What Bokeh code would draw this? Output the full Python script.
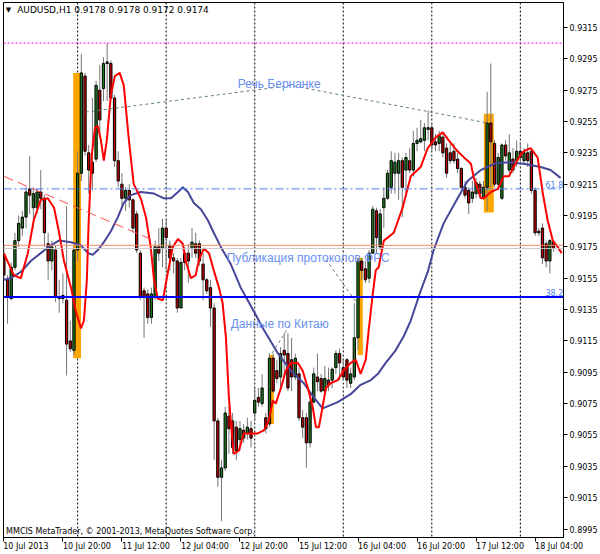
from bokeh.plotting import figure
from bokeh.models import Span, Label, FixedTicker, NumeralTickFormatter, LinearAxis
from bokeh.embed import file_html
from bokeh.resources import INLINE

SYMBOL = "AUDUSD,H1"
OPEN = [0.9170, 0.9154, 0.9142, 0.9162, 0.9179, 0.9187, 0.9194, 0.9212, 0.9200, 0.9200,
        0.9210, 0.9206, 0.9177, 0.9166, 0.9173, 0.9143, 0.9144, 0.9141, 0.9115, 0.9109,
        0.9173, 0.9222, 0.9284, 0.9235, 0.9229, 0.9231, 0.9275, 0.9276, 0.9292, 0.9292,
        0.9270, 0.9230, 0.9215, 0.9206, 0.9211, 0.9205, 0.9196, 0.9171, 0.9147, 0.9145,
        0.9130, 0.9143, 0.9175, 0.9174, 0.9187, 0.9176, 0.9168, 0.9166, 0.9136, 0.9171,
        0.9171, 0.9174, 0.9177, 0.9177, 0.9164, 0.9154, 0.9149, 0.9136, 0.9064, 0.9028,
        0.9034, 0.9067, 0.9064, 0.9060, 0.9052, 0.9058, 0.9056, 0.9059, 0.9069, 0.9079,
        0.9075, 0.9066, 0.9062, 0.9104, 0.9096, 0.9092, 0.9109, 0.9107, 0.9103, 0.9092,
        0.9094, 0.9066, 0.9066, 0.9050, 0.9076, 0.9092, 0.9091, 0.9083, 0.9090, 0.9090,
        0.9098, 0.9107, 0.9098, 0.9103, 0.9088, 0.9092, 0.9117, 0.9166, 0.9161, 0.9155,
        0.9171, 0.9198, 0.9175, 0.9200, 0.9206, 0.9213, 0.9222, 0.9222, 0.9230, 0.9224,
        0.9230, 0.9224, 0.9241, 0.9242, 0.9243, 0.9250, 0.9251, 0.9242, 0.9241, 0.9245,
        0.9238, 0.9235, 0.9236, 0.9231, 0.9225, 0.9213, 0.9211, 0.9206, 0.9209, 0.9215,
        0.9206, 0.9213, 0.9254, 0.9241, 0.9215, 0.9206, 0.9240, 0.9224, 0.9231, 0.9230,
        0.9236, 0.9230, 0.9235, 0.9236, 0.9211, 0.9185, 0.9187, 0.9177, 0.9166, 0.9178]
HIGH = [0.9176, 0.9157, 0.9165, 0.9184, 0.9195, 0.9198, 0.9213, 0.9233, 0.9213, 0.9212,
        0.9224, 0.9208, 0.9184, 0.9179, 0.9176, 0.9154, 0.9158, 0.9201, 0.9128, 0.9176,
        0.9236, 0.9298, 0.9286, 0.9240, 0.9270, 0.9281, 0.9291, 0.9296, 0.9305, 0.9294,
        0.9272, 0.9236, 0.9222, 0.9213, 0.9215, 0.9206, 0.9198, 0.9173, 0.9149, 0.9148,
        0.9149, 0.9179, 0.9187, 0.9193, 0.9192, 0.9179, 0.9171, 0.9168, 0.9168, 0.9175,
        0.9177, 0.9187, 0.9184, 0.9179, 0.9171, 0.9155, 0.9154, 0.9139, 0.9066, 0.9039,
        0.9073, 0.9073, 0.9069, 0.9064, 0.9064, 0.9062, 0.9066, 0.9064, 0.9085, 0.9085,
        0.9094, 0.9069, 0.9107, 0.9107, 0.9103, 0.9111, 0.9120, 0.9120, 0.9117, 0.9107,
        0.9098, 0.9071, 0.9069, 0.9082, 0.9098, 0.9107, 0.9094, 0.9099, 0.9098, 0.9098,
        0.9109, 0.9110, 0.9103, 0.9104, 0.9098, 0.9139, 0.9168, 0.9168, 0.9166, 0.9173,
        0.9201, 0.9200, 0.9199, 0.9213, 0.9224, 0.9236, 0.9235, 0.9235, 0.9232, 0.9235,
        0.9238, 0.9249, 0.9251, 0.9256, 0.9254, 0.9262, 0.9254, 0.9247, 0.9249, 0.9248,
        0.9241, 0.9241, 0.9241, 0.9235, 0.9226, 0.9217, 0.9213, 0.9217, 0.9219, 0.9217,
        0.9217, 0.9274, 0.9292, 0.9243, 0.9235, 0.9241, 0.9243, 0.9247, 0.9238, 0.9243,
        0.9242, 0.9238, 0.9241, 0.9238, 0.9213, 0.9187, 0.9190, 0.9179, 0.9180, 0.9178]
LOW = [0.9154, 0.9126, 0.9141, 0.9160, 0.9175, 0.9182, 0.9187, 0.9196, 0.9187, 0.9196,
       0.9199, 0.9175, 0.9154, 0.9160, 0.9140, 0.9133, 0.9139, 0.9093, 0.9108, 0.9106,
       0.9166, 0.9217, 0.9233, 0.9209, 0.9211, 0.9229, 0.9247, 0.9268, 0.9268, 0.9268,
       0.9226, 0.9213, 0.9200, 0.9198, 0.9200, 0.9184, 0.9171, 0.9141, 0.9117, 0.9126,
       0.9126, 0.9141, 0.9166, 0.9162, 0.9160, 0.9160, 0.9158, 0.9133, 0.9136, 0.9160,
       0.9152, 0.9168, 0.9168, 0.9163, 0.9141, 0.9145, 0.9124, 0.9039, 0.9022, 0.9000,
       0.9032, 0.9043, 0.9043, 0.9039, 0.9045, 0.9050, 0.9052, 0.9047, 0.9064, 0.9073,
       0.9073, 0.9056, 0.9060, 0.9082, 0.9088, 0.9085, 0.9092, 0.9083, 0.9083, 0.9090,
       0.9064, 0.9053, 0.9034, 0.9047, 0.9075, 0.9083, 0.9082, 0.9082, 0.9083, 0.9085,
       0.9094, 0.9090, 0.9090, 0.9085, 0.9085, 0.9090, 0.9109, 0.9154, 0.9152, 0.9152,
       0.9171, 0.9171, 0.9173, 0.9187, 0.9205, 0.9209, 0.9209, 0.9205, 0.9194, 0.9209,
       0.9222, 0.9220, 0.9236, 0.9241, 0.9236, 0.9243, 0.9236, 0.9236, 0.9236, 0.9232,
       0.9219, 0.9228, 0.9228, 0.9222, 0.9211, 0.9206, 0.9196, 0.9203, 0.9206, 0.9206,
       0.9205, 0.9198, 0.9213, 0.9213, 0.9211, 0.9205, 0.9230, 0.9222, 0.9222, 0.9226,
       0.9228, 0.9228, 0.9226, 0.9209, 0.9182, 0.9182, 0.9164, 0.9162, 0.9158, 0.9172]
CLOSE = [0.9157, 0.9143, 0.9162, 0.9179, 0.9190, 0.9194, 0.9210, 0.9208, 0.9209, 0.9210,
         0.9206, 0.9184, 0.9166, 0.9175, 0.9143, 0.9142, 0.9142, 0.9113, 0.9110, 0.9173,
         0.9222, 0.9286, 0.9236, 0.9224, 0.9222, 0.9278, 0.9256, 0.9292, 0.9293, 0.9270,
         0.9230, 0.9217, 0.9206, 0.9211, 0.9205, 0.9187, 0.9173, 0.9143, 0.9143, 0.9130,
         0.9145, 0.9175, 0.9171, 0.9187, 0.9181, 0.9168, 0.9166, 0.9136, 0.9165, 0.9165,
         0.9166, 0.9178, 0.9171, 0.9166, 0.9154, 0.9147, 0.9136, 0.9064, 0.9028, 0.9034,
         0.9069, 0.9059, 0.9047, 0.9045, 0.9059, 0.9053, 0.9060, 0.9053, 0.9077, 0.9076,
         0.9085, 0.9059, 0.9104, 0.9083, 0.9091, 0.9107, 0.9106, 0.9085, 0.9092, 0.9104,
         0.9066, 0.9060, 0.9050, 0.9076, 0.9094, 0.9089, 0.9083, 0.9091, 0.9087, 0.9097,
         0.9107, 0.9101, 0.9092, 0.9090, 0.9094, 0.9117, 0.9166, 0.9160, 0.9154, 0.9171,
         0.9199, 0.9181, 0.9196, 0.9206, 0.9222, 0.9230, 0.9229, 0.9230, 0.9213, 0.9232,
         0.9224, 0.9241, 0.9243, 0.9244, 0.9251, 0.9251, 0.9240, 0.9240, 0.9246, 0.9235,
         0.9222, 0.9230, 0.9230, 0.9225, 0.9213, 0.9208, 0.9203, 0.9210, 0.9216, 0.9209,
         0.9213, 0.9254, 0.9242, 0.9215, 0.9232, 0.9240, 0.9233, 0.9235, 0.9224, 0.9236,
         0.9232, 0.9235, 0.9230, 0.9211, 0.9184, 0.9184, 0.9168, 0.9166, 0.9179, 0.9174]

# indicator lines (bar index, price)
RED_X = [0, 2.7, 4.6, 6.5, 8.1, 10, 11.9, 13.6, 14.9, 16.3, 18.2, 19.5, 20.9, 21.7, 22.5, 23, 23.8,
         24.7, 25.5, 26.3, 27.1, 27.9, 29, 30.1, 31.4, 32.5, 33.9, 35.2, 37.1, 38.5, 39.8, 40.7,
         41.7, 43.1, 44.4, 45.8, 47.2, 48.5, 49.3, 50.7, 52, 52.8, 54.2, 55.6, 56.9, 58.3, 59.3,
         60.2, 61, 61.5, 62.3, 63.7, 65, 66.9, 68.8, 70.5, 71.8, 72.9, 73.7, 75.1, 76.4, 77.8,
         79.7, 81, 82.4, 83.7, 84.6, 85.4, 86.4, 87.3, 88.6, 90.5, 92.1, 94, 95.4, 96.7, 98.1,
         98.9, 100, 100.8, 101.6, 103, 105.7, 108.1, 110.3, 113, 114.9, 117.1, 119, 120.6, 123,
         125.2, 126.6, 127.4, 129.3, 130.1, 132, 133.9, 135.5, 136.9, 138.2, 139.6, 140.9, 142.8,
         144.7, 146.1, 147.4, 148.8, 150.1, 151.2]
RED_Y = [0.9171, 0.9157, 0.9155, 0.9171, 0.9192, 0.9205, 0.9206, 0.9200, 0.9185, 0.9166, 0.9149,
         0.9134, 0.9123, 0.9128, 0.9154, 0.9192, 0.9233, 0.9251, 0.9252, 0.9243, 0.9230, 0.9243,
         0.9272, 0.9284, 0.9286, 0.9278, 0.9243, 0.9215, 0.9206, 0.9194, 0.9175, 0.9154, 0.9142,
         0.9141, 0.9158, 0.9175, 0.9180, 0.9177, 0.9166, 0.9155, 0.9157, 0.9166, 0.9174, 0.9171,
         0.9160, 0.9149, 0.9139, 0.9117, 0.9079, 0.9064, 0.9043, 0.9045, 0.9056, 0.9056, 0.9056,
         0.9058, 0.9064, 0.9077, 0.9075, 0.9085, 0.9096, 0.9101, 0.9101, 0.9096, 0.9085, 0.9073,
         0.9060, 0.9060, 0.9073, 0.9085, 0.9088, 0.9090, 0.9096, 0.9101, 0.9103, 0.9094, 0.9103,
         0.9122, 0.9145, 0.9160, 0.9162, 0.9179, 0.9184, 0.9200, 0.9220, 0.9226, 0.9238, 0.9245,
         0.9248, 0.9243, 0.9236, 0.9231, 0.9228, 0.9219, 0.9206, 0.9206, 0.9210, 0.9212, 0.9220,
         0.9220, 0.9226, 0.9232, 0.9236, 0.9238, 0.9232, 0.9209, 0.9192, 0.9179, 0.9175, 0.9171]
NAVY_X = [0, 1.9, 4.6, 7.3, 10, 12.7, 14.9, 18.2, 20.9, 22.8, 24.1, 25.5, 27.1, 29, 30.9, 32.5,
          34.4, 37.1, 40.7, 43.4, 45.3, 47.2, 48.5, 49.9, 51.5, 53.4, 55.3, 56.9, 58.8, 61.5,
          64.2, 66.1, 70.5, 74.3, 77.8, 81.3, 84, 86.4, 90.5, 94, 96.7, 99.5, 101.4, 103.5,
          106.2, 108.4, 110.3, 113, 114.9, 116.5, 119.2, 123, 125.7, 129.3, 132.8, 136.6,
          140.9, 145.5, 148.2, 150.9]
NAVY_Y = [0.9154, 0.9155, 0.9159, 0.9166, 0.9171, 0.9176, 0.9179, 0.9178, 0.9176, 0.9171, 0.9170,
          0.9173, 0.9178, 0.9185, 0.9194, 0.9203, 0.9208, 0.9210, 0.9209, 0.9206, 0.9206, 0.9210,
          0.9213, 0.9210, 0.9203, 0.9199, 0.9192, 0.9184, 0.9175, 0.9164, 0.9149, 0.9141, 0.9122,
          0.9107, 0.9096, 0.9088, 0.9079, 0.9072, 0.9076, 0.9081, 0.9087, 0.9090, 0.9094, 0.9101,
          0.9109, 0.9118, 0.9128, 0.9147, 0.9159, 0.9173, 0.9190, 0.9206, 0.9217, 0.9224, 0.9228,
          0.9229, 0.9228, 0.9226, 0.9224, 0.9219]

TIME_TICKS = [0, 16, 32, 48, 64, 80, 96, 112, 128, 144]
TIME_LABELS = ["10 Jul 2013", "10 Jul 20:00", "11 Jul 12:00", "12 Jul 04:00", "12 Jul 20:00",
               "15 Jul 12:00", "16 Jul 04:00", "16 Jul 20:00", "17 Jul 12:00", "18 Jul 04:00"]
PRICE_TICKS = [0.8995, 0.9015, 0.9035, 0.9055, 0.9075, 0.9095, 0.9115, 0.9135, 0.9155,
               0.9175, 0.9195, 0.9215, 0.9235, 0.9255, 0.9275, 0.9295, 0.9315]
DAY_STARTS = [20, 44, 68, 92, 116, 140]

# highlighted event bars
HL_LEFT = [18.8, 71.8, 95.9, 130.1]
HL_RIGHT = [20.9, 73.2, 97.3, 132.8]
HL_TOP = [0.9286, 0.9106, 0.9168, 0.9260]
HL_BOTTOM = [0.9104, 0.9062, 0.9106, 0.9197]

# horizontal levels
ALERT_LEVEL = 0.9305
FIB_LEVELS = [0.9212, 0.9143]
FIB_NAMES = ["61.8", "38.2"]
ASK_LEVEL = 0.9176
BID_LEVEL = 0.9174

TREND_X = [0, 40.7]
TREND_Y = [0.9220, 0.9179]

EVENT_TEXT = ["Речь Бернанке", "Публикация протоколов ФРС", "Данные по Китаю"]
EVENT_X = [63.4, 60.4, 61.5]
EVENT_Y = [0.9279, 0.9168, 0.9126]
EVENT_LINES_X = [[22.2, 77.8, 131.2], [87.3, 95.7], [77.5, 72.4]]
EVENT_LINES_Y = [[0.9261, 0.9278, 0.9254], [0.9167, 0.9139], [0.9125, 0.9106]]

X_START, X_END = -0.1, 151.7
Y_START, Y_END = 0.89896, 0.93309
FONT = "DejaVu Sans"
FS = "8px"
PX_PER_BAR = 3.69

p = figure(width=600, height=554, x_range=(X_START, X_END), y_range=(Y_START, Y_END),
           y_axis_location="right", output_backend="svg", toolbar_location=None,
           min_border_left=3, min_border_top=2, min_border_right=37, min_border_bottom=17)
p.background_fill_color = "white"
p.border_fill_color = "white"
p.outline_line_color = "black"
p.grid.visible = False

for ax in (p.xaxis[0], p.yaxis[0]):
    ax.axis_line_color = "black"
    ax.major_tick_line_color = "black"
    ax.major_tick_out = 4
    ax.major_tick_in = 0
    ax.minor_tick_line_color = None
    ax.major_label_text_font = FONT
    ax.major_label_text_font_size = FS
    ax.major_label_text_color = "black"
    ax.major_label_standoff = 2

# tick-mark-only time axis (ticks at the left edge of each label)
p.xaxis.ticker = FixedTicker(ticks=TIME_TICKS)
p.xaxis.major_label_overrides = {t: "" for t in TIME_TICKS}
p.xaxis.major_label_text_font_size = "1px"
p.xaxis.major_label_standoff = 0

# label-only axis: labels centred so that they start at their tick
label_pos = [t + (len(s) * 4.0 / 2) / PX_PER_BAR for t, s in zip(TIME_TICKS, TIME_LABELS)]
lab_axis = LinearAxis(ticker=FixedTicker(ticks=label_pos),
                      major_label_overrides={lp: s for lp, s in zip(label_pos, TIME_LABELS)},
                      axis_line_color=None, major_tick_line_color=None,
                      major_tick_out=0, major_tick_in=0, minor_tick_line_color=None,
                      major_label_text_font=FONT, major_label_text_font_size=FS,
                      major_label_text_color="black", major_label_standoff=0)
p.add_layout(lab_axis, "below")

p.yaxis.ticker = FixedTicker(ticks=PRICE_TICKS)
p.yaxis.formatter = NumeralTickFormatter(format="0.0000")

# day separators
for d in DAY_STARTS:
    p.add_layout(Span(location=d, dimension="height", line_color="black",
                      line_dash="2 2", line_width=1, level="underlay"))

# highlighted bars
p.quad(left=HL_LEFT, right=HL_RIGHT, top=HL_TOP, bottom=HL_BOTTOM,
       fill_color="#ffa500", line_color=None)

# candles
idx = list(range(len(OPEN)))
up = [c >= o for o, c in zip(OPEN, CLOSE)]
p.segment(x0=idx, y0=HIGH, x1=idx, y1=LOW, line_color="#777777", line_width=1)
body_top = [max(o, c) for o, c in zip(OPEN, CLOSE)]
body_bot = [min(o, c) for o, c in zip(OPEN, CLOSE)]
colors = ["#1d7a1d" if u else "#c00000" for u in up]
p.vbar(x=idx, top=body_top, bottom=body_bot, width=0.62, fill_color=colors,
       line_color="black", line_width=1)

# indicators
p.line(NAVY_X, NAVY_Y, line_color="#45459a", line_width=2)
p.line(RED_X, RED_Y, line_color="#ff0000", line_width=2)

# levels
p.add_layout(Span(location=ALERT_LEVEL, dimension="width", line_color="#ff00ff",
                  line_dash="2 2", line_width=1))
p.add_layout(Span(location=FIB_LEVELS[0], dimension="width", line_color="#4f7ff0",
                  line_dash="8 3 2 3", line_width=1))
p.add_layout(Span(location=FIB_LEVELS[1], dimension="width", line_color="#0000ff",
                  line_width=2))
p.add_layout(Span(location=BID_LEVEL, dimension="width", line_color="#c8c8c8", line_width=1))
p.add_layout(Span(location=ASK_LEVEL, dimension="width", line_color="#f08a6a", line_width=1))

for name, lvl in zip(FIB_NAMES, FIB_LEVELS):
    p.add_layout(Label(x=146.8, y=lvl, text=name, text_font=FONT,
                       text_font_size="8px", text_color="#4f7ff0",
                       text_baseline="bottom", y_offset=1))

# trend line and event annotations
p.line(TREND_X, TREND_Y, line_color="#ff5050", line_dash="10 5", line_width=1)
for xs, ys in zip(EVENT_LINES_X, EVENT_LINES_Y):
    p.line(xs, ys, line_color="#5f807a", line_dash="3 3", line_width=1)
for t, ex, ey in zip(EVENT_TEXT, EVENT_X, EVENT_Y):
    p.add_layout(Label(x=ex, y=ey, text=t, text_font="Liberation Sans",
                       text_font_size="12px", text_color="#6a8ff0",
                       text_baseline="middle"))

# header / footer
p.add_layout(Label(x=0.5, y=0.93258, text="▼", text_font=FONT,
                   text_font_size="7px", text_color="black", text_baseline="middle"))
header = "%s  %.4f %.4f %.4f %.4f" % (SYMBOL, OPEN[-1], HIGH[-1], LOW[-1], CLOSE[-1])
p.add_layout(Label(x=3.6, y=0.93258, text=header, text_font=FONT,
                   text_font_size="9px", text_color="black", text_baseline="middle"))
p.add_layout(Label(x=0.6, y=0.89934,
                   text="MMCIS MetaTrader, © 2001-2013, MetaQuotes Software Corp.",
                   text_font=FONT, text_font_size="8px", text_color="black",
                   text_baseline="middle"))

# price tags on the right scale
p.add_layout(Label(x=X_END, y=ALERT_LEVEL, text=" %.4f " % ALERT_LEVEL, x_offset=2,
                   text_font=FONT, text_font_size=FS, text_color="white",
                   background_fill_color="#ff00ff", text_baseline="middle"))
p.add_layout(Label(x=X_END, y=ASK_LEVEL + 0.0002, text=" %.4f " % ASK_LEVEL, x_offset=2,
                   text_font=FONT, text_font_size=FS, text_color="white",
                   background_fill_color="#ff7a3a", text_baseline="middle"))
p.add_layout(Label(x=X_END, y=BID_LEVEL, text=" %.4f " % CLOSE[-1], x_offset=2,
                   text_font=FONT, text_font_size=FS, text_color="white",
                   background_fill_color="black", text_baseline="middle"))

open("out.html", "w").write(file_html(p, INLINE))
